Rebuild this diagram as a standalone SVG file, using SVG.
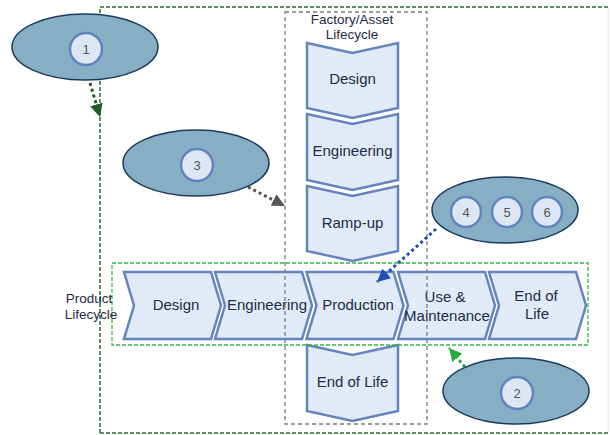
<svg xmlns="http://www.w3.org/2000/svg" width="610" height="435" viewBox="0 0 610 435">
<defs>
<style>
.chev{fill:#e1ebf8;stroke:#6584bd;stroke-width:2.5;stroke-linejoin:miter}
.lbl{font-family:"Liberation Sans",Arial,sans-serif;font-size:15px;fill:#1f2a44;text-anchor:middle}
.ttl{font-family:"Liberation Sans",Arial,sans-serif;font-size:13.5px;fill:#1f2a44;text-anchor:middle}
.ell{fill:#86afc3;stroke:#1b3a5c;stroke-width:1.5}
.dot{fill:#dde6f3;stroke:#6282c0;stroke-width:2.5}
.num{font-family:"Liberation Sans",Arial,sans-serif;font-size:13px;fill:#555555;text-anchor:middle}
.conn{fill:none;stroke-width:3;stroke-dasharray:3 3}
</style>
<marker id="mDG" viewBox="0 0 12 12" refX="12" refY="6" markerWidth="13" markerHeight="13" markerUnits="userSpaceOnUse" orient="auto"><path d="M0,0 L12,6 L0,12 Z" fill="#1a5c2a"/></marker>
<marker id="mGR" viewBox="0 0 12 12" refX="12" refY="6" markerWidth="13" markerHeight="13" markerUnits="userSpaceOnUse" orient="auto"><path d="M0,0 L12,6 L0,12 Z" fill="#555555"/></marker>
<marker id="mBL" viewBox="0 0 12 12" refX="12" refY="6" markerWidth="13" markerHeight="13" markerUnits="userSpaceOnUse" orient="auto"><path d="M0,0 L12,6 L0,12 Z" fill="#1f4fb5"/></marker>
<marker id="mLG" viewBox="0 0 12 12" refX="12" refY="6" markerWidth="13" markerHeight="13" markerUnits="userSpaceOnUse" orient="auto"><path d="M0,0 L12,6 L0,12 Z" fill="#22aa44"/></marker>
</defs>
<rect width="610" height="435" fill="#ffffff"/>

<g id="outer-box">
<path d="M100,433 L100,7 L610,7" fill="none" stroke="#2e6b35" stroke-width="1.5" stroke-dasharray="4 2"/>
<path d="M100,433 L610,433" fill="none" stroke="#2e6b35" stroke-width="1.5" stroke-dasharray="4 2"/>
<line x1="608" y1="8" x2="608" y2="432" stroke="#e4e4e4" stroke-width="1"/>
</g>

<g id="factory-lifecycle">
<text class="ttl" x="352" y="23.5">Factory/Asset</text>
<text class="ttl" x="352" y="38.5">Lifecycle</text>
<g id="f-design"><polygon class="chev" points="307,43 352.5,53 398,43 398,108 352.5,118 307,108"/><text class="lbl" x="352.5" y="83.5">Design</text></g>
<g id="f-engineering"><polygon class="chev" points="307,114 352.5,124 398,114 398,180 352.5,190 307,180"/><text class="lbl" x="352.5" y="155.5">Engineering</text></g>
<g id="f-rampup"><polygon class="chev" points="307,186 352.5,196 398,186 398,251 352.5,261 307,251"/><text class="lbl" x="352.5" y="227.5">Ramp-up</text></g>
<g id="f-endoflife"><polygon class="chev" points="307,345 352.5,355 398,345 398,411 352.5,421 307,411"/><text class="lbl" x="352.5" y="386.5">End of Life</text></g>
</g>

<g id="product-lifecycle">
<rect x="112" y="263" width="476" height="82" fill="none" stroke="#33bb44" stroke-width="1.3" stroke-dasharray="4 2"/>
<g id="p-design"><polygon class="chev" points="124,272 211,272 221,305.5 211,339 124,339 134,305.5"/><text class="lbl" x="176" y="309.5">Design</text></g>
<g id="p-engineering"><polygon class="chev" points="215,272 302,272 312,305.5 302,339 215,339 225,305.5"/><text class="lbl" x="267" y="309.5">Engineering</text></g>
<g id="p-production"><polygon class="chev" points="306.5,272 393.5,272 403.5,305.5 393.5,339 306.5,339 316.5,305.5"/><text class="lbl" x="358" y="309.5">Production</text></g>
<g id="p-use"><polygon class="chev" points="398,272 485,272 495,305.5 485,339 398,339 408,305.5"/><text class="lbl" x="445" y="302">Use &amp;</text><text class="lbl" x="447" y="321">Maintenance</text></g>
<g id="p-endoflife"><polygon class="chev" points="489,272 576,272 586,305.5 576,339 489,339 499,305.5"/><text class="lbl" x="536" y="300.5">End of</text><text class="lbl" x="537" y="318.5">Life</text></g>
<text class="ttl" x="89" y="303">Product</text>
<text class="ttl" x="91" y="318.5">Lifecycle</text>
</g>

<rect id="factory-box" x="285" y="12" width="142" height="412" fill="none" stroke="#7a7a7a" stroke-width="1.3" stroke-dasharray="4 3"/>

<g id="connectors">
<path class="conn" d="M90,83 L100,117" stroke="#1a5c2a" marker-end="url(#mDG)"/>
<path class="conn" d="M248,187 L285,206" stroke="#555555" marker-end="url(#mGR)"/>
<path class="conn" d="M436,229 L377,282" stroke="#1f4fb5" marker-end="url(#mBL)"/>
<path class="conn" d="M465,367 L449,348" stroke="#22aa44" marker-end="url(#mLG)"/>
</g>

<g id="node-1"><ellipse class="ell" cx="85" cy="47" rx="73" ry="33"/><circle class="dot" cx="86" cy="49" r="16"/><text class="num" x="86" y="53.5">1</text></g>
<g id="node-3"><ellipse class="ell" cx="196" cy="163" rx="73" ry="33"/><circle class="dot" cx="197" cy="165" r="16"/><text class="num" x="197" y="169.5">3</text></g>
<g id="node-456"><ellipse class="ell" cx="505" cy="210" rx="73" ry="33"/><circle class="dot" cx="466" cy="212" r="15"/><text class="num" x="466" y="216.5">4</text><circle class="dot" cx="507" cy="212" r="15"/><text class="num" x="507" y="216.5">5</text><circle class="dot" cx="547" cy="212" r="15"/><text class="num" x="547" y="216.5">6</text></g>
<g id="node-2"><ellipse class="ell" cx="516" cy="391" rx="73" ry="33"/><circle class="dot" cx="517" cy="393" r="16"/><text class="num" x="517" y="397.5">2</text></g>
</svg>
